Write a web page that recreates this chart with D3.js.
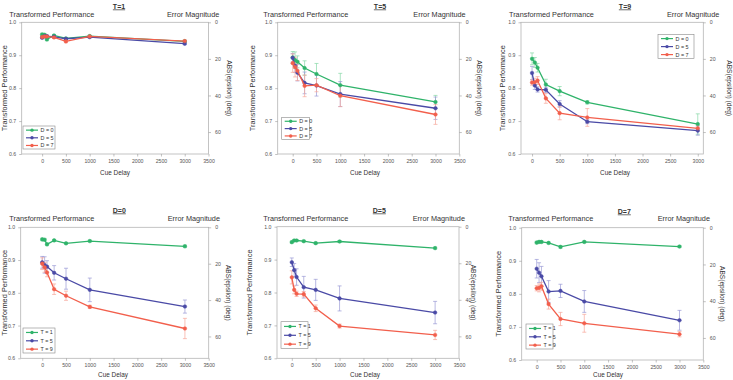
<!DOCTYPE html>
<html><head><meta charset="utf-8">
<script src="https://cdn.jsdelivr.net/npm/d3@7"></script>
<style>body{margin:0;background:#fff}svg{display:block;font-family:"Liberation Sans",Arial,sans-serif}</style>
</head><body><svg id="c" width="733" height="380"></svg>
<script>
// ---- data ----
const cueDelay = [0, 50, 100, 250, 500, 1000, 3000];
const xTicksA = [0, 500, 1000, 1500, 2000, 2500, 3000, 3500];
const xTicksB = [0, 500, 1000, 1500, 2000, 2500, 3000];
const yTicks = [0.6, 0.7, 0.8, 0.9, 1.0];
const y2Ticks = [0, 20, 40, 60];

const perf_T1_D0 = [0.963, 0.962, 0.948, 0.960, 0.951, 0.958, 0.942];
const err_T1_D0  = [0.004, 0.004, 0.004, 0.003, 0.003, 0.003, 0.004];
const perf_T1_D5 = [0.953, 0.958, 0.958, 0.956, 0.950, 0.955, 0.935];
const err_T1_D5  = [0.003, 0.003, 0.003, 0.003, 0.003, 0.003, 0.003];
const perf_T1_D7 = [0.955, 0.957, 0.957, 0.954, 0.942, 0.957, 0.943];
const err_T1_D7  = [0.004, 0.003, 0.003, 0.003, 0.004, 0.003, 0.003];

const perf_T5_D0 = [0.893, 0.885, 0.880, 0.861, 0.843, 0.809, 0.758];
const err_T5_D0  = [0.018, 0.025, 0.018, 0.022, 0.032, 0.036, 0.020];
const perf_T5_D5 = [0.892, 0.868, 0.847, 0.816, 0.808, 0.782, 0.739];
const err_T5_D5  = [0.013, 0.020, 0.025, 0.033, 0.032, 0.038, 0.034];
const perf_T5_D7 = [0.876, 0.864, 0.853, 0.807, 0.809, 0.777, 0.720];
const err_T5_D7  = [0.028, 0.030, 0.030, 0.033, 0.020, 0.033, 0.030];

const perf_T9_D0 = [0.889, 0.878, 0.862, 0.811, 0.791, 0.757, 0.691];
const err_T9_D0  = [0.018, 0.015, 0.013, 0.016, 0.014, 0.005, 0.031];
const perf_T9_D5 = [0.846, 0.808, 0.796, 0.795, 0.752, 0.698, 0.671];
const err_T9_D5  = [0.020, 0.012, 0.008, 0.008, 0.010, 0.006, 0.014];
const perf_T9_D7 = [0.817, 0.818, 0.823, 0.769, 0.724, 0.711, 0.678];
const err_T9_D7  = [0.008, 0.012, 0.012, 0.015, 0.020, 0.027, 0.008];

const labelsD = ["D = 0", "D = 5", "D = 7"];
const labelsT = ["T = 1", "T = 5", "T = 9"];
const titles = ["T=1", "T=5", "T=9", "D=0", "D=5", "D=7"];

// ---- styles ----
const COL = ["#2fb36a", "#4a4aa6", "#f25f4c"];
const ECOL = ["#86d9a8", "#9a9ad6", "#f7a69a"];

const panels = [
  {title: titles[0], labels: labelsD, s: [[perf_T1_D0, err_T1_D0], [perf_T1_D5, err_T1_D5], [perf_T1_D7, err_T1_D7]],
   L: 21.7, R: 208.5, T: 22.3, B: 154, xd: [-430, 3500], xt: xTicksA,
   tx: 119, ty: 8.5, hy: 16.5, hl: 9.3, hr: 219.3, ylx: 6.8, y2x: 229, xlx: 115, xly: 175, lg: [23, 126, 32, 23]},
  {title: titles[1], labels: labelsD, s: [[perf_T5_D0, err_T5_D0], [perf_T5_D5, err_T5_D5], [perf_T5_D7, err_T5_D7]],
   L: 277.7, R: 459.3, T: 22.3, B: 154, xd: [-315, 3500], xt: xTicksA,
   tx: 380, ty: 8.5, hy: 16.5, hl: 263.3, hr: 465.7, ylx: 254.5, y2x: 479, xlx: 365, xly: 175, lg: [281.7, 117.3, 27.6, 22]},
  {title: titles[2], labels: labelsD, s: [[perf_T9_D0, err_T9_D0], [perf_T9_D5, err_T9_D5], [perf_T9_D7, err_T9_D7]],
   L: 521, R: 703.3, T: 22.3, B: 154, xd: [-200, 3100], xt: xTicksB,
   tx: 625, ty: 8.5, hy: 16.5, hl: 509, hr: 719.3, ylx: 504.5, y2x: 729, xlx: 615, xly: 175, lg: [658, 34.3, 36, 24]},
  {title: titles[3], labels: labelsT, s: [[perf_T1_D0, err_T1_D0], [perf_T5_D0, err_T5_D0], [perf_T9_D0, err_T9_D0]],
   L: 20.7, R: 208.7, T: 227.3, B: 358.3, xd: [-453, 3500], xt: xTicksA,
   tx: 119.3, ty: 212.5, hy: 220.5, hl: 9.3, hr: 220, ylx: 6.8, y2x: 228, xlx: 113, xly: 377.3, lg: [23, 328, 32, 25]},
  {title: titles[4], labels: labelsT, s: [[perf_T1_D5, err_T1_D5], [perf_T5_D5, err_T5_D5], [perf_T9_D5, err_T9_D5]],
   L: 277, R: 459, T: 226.7, B: 358.3, xd: [-310, 3500], xt: xTicksA,
   tx: 379.3, ty: 212.5, hy: 220.5, hl: 263.3, hr: 465, ylx: 251.5, y2x: 473, xlx: 365, xly: 377.3, lg: [281, 321.7, 27, 26.6]},
  {title: titles[5], labels: labelsT, s: [[perf_T1_D7, err_T1_D7], [perf_T5_D7, err_T5_D7], [perf_T9_D7, err_T9_D7]],
   L: 521.7, R: 703.3, T: 227.7, B: 360, xd: [-315, 3500], xt: xTicksA,
   tx: 624.3, ty: 213.5, hy: 221, hl: 508.3, hr: 710, ylx: 500.5, y2x: 722.5, xlx: 608, xly: 377.3, lg: [526, 324, 27, 25]}
];

const svg = d3.select("#c");
const TXT = "#333";

panels.forEach(p => {
  const g = svg.append("g");
  const x = d3.scaleLinear().domain(p.xd).range([p.L, p.R]);
  const y = d3.scaleLinear().domain([0.6, 1.0]).range([p.B, p.T]);
  const y2 = d3.scaleLinear().domain([0, 72]).range([p.T, p.B]);

  // frame
  g.append("rect").attr("x", p.L).attr("y", p.T).attr("width", p.R - p.L).attr("height", p.B - p.T)
    .attr("fill", "none").attr("stroke", "#b5b5b5").attr("stroke-width", 0.8);

  const styleAxis = a => {
    a.select(".domain").remove();
    a.selectAll(".tick line").attr("stroke", "#999").attr("stroke-width", 0.6);
    a.selectAll(".tick text").attr("fill", "#555").style("font-size", "5.2px")
      .style("font-family", '"Liberation Sans",Arial,sans-serif');
  };
  g.append("g").attr("transform", `translate(0,${p.B})`)
    .call(d3.axisBottom(x).tickValues(p.xt).tickSize(2.5).tickPadding(3).tickFormat(d3.format("d"))).call(styleAxis);
  g.append("g").attr("transform", `translate(${p.L},0)`)
    .call(d3.axisLeft(y).tickValues(yTicks).tickSize(2.5).tickPadding(3).tickFormat(d3.format(".1f"))).call(styleAxis);
  g.append("g").attr("transform", `translate(${p.R},0)`)
    .call(d3.axisRight(y2).tickValues(y2Ticks).tickSize(2.5).tickPadding(4).tickFormat(d3.format("d"))).call(styleAxis);

  // texts
  g.append("text").attr("x", p.tx).attr("y", p.ty).attr("text-anchor", "middle")
    .style("font-size", "7px").style("font-weight", "bold").style("text-decoration", "underline")
    .attr("fill", TXT).text(p.title);
  g.append("text").attr("x", p.hl).attr("y", p.hy).style("font-size", "7.3px").attr("fill", TXT).text("Transformed Performance");
  g.append("text").attr("x", p.hr).attr("y", p.hy).attr("text-anchor", "end").style("font-size", "7.3px").attr("fill", TXT).text("Error Magnitude");
  const cy = (p.T + p.B) / 2;
  g.append("text").attr("transform", `translate(${p.ylx},${cy}) rotate(-90)`).attr("text-anchor", "middle")
    .style("font-size", "7.4px").attr("fill", TXT).text("Transformed Performance");
  g.append("text").attr("transform", `translate(${p.y2x - 2.3},${cy}) rotate(90)`).attr("text-anchor", "middle")
    .style("font-size", "6.6px").attr("fill", TXT).text("ABS(epsilon) (deg)");
  g.append("text").attr("x", p.xlx).attr("y", p.xly).attr("text-anchor", "middle")
    .style("font-size", "6.4px").attr("fill", TXT).text("Cue Delay");

  // series
  const line = d3.line().x(d => x(d.t)).y(d => y(d.v));
  p.s.forEach((ser, i) => {
    const pts = cueDelay.map((t, k) => ({t, v: ser[0][k], e: ser[1][k]}));
    const eg = g.append("g").attr("stroke", ECOL[i]).attr("stroke-width", 0.7);
    pts.forEach(d => {
      const xx = x(d.t), y0 = y(d.v - d.e), y1 = y(d.v + d.e);
      eg.append("line").attr("x1", xx).attr("x2", xx).attr("y1", y0).attr("y2", y1);
      eg.append("line").attr("x1", xx - 2).attr("x2", xx + 2).attr("y1", y0).attr("y2", y0);
      eg.append("line").attr("x1", xx - 2).attr("x2", xx + 2).attr("y1", y1).attr("y2", y1);
    });
  });
  p.s.forEach((ser, i) => {
    const pts = cueDelay.map((t, k) => ({t, v: ser[0][k]}));
    g.append("path").datum(pts).attr("d", line).attr("fill", "none").attr("stroke", COL[i]).attr("stroke-width", 1.3);
    g.selectAll(null).data(pts).enter().append("circle")
      .attr("cx", d => x(d.t)).attr("cy", d => y(d.v)).attr("r", 1.8)
      .attr("fill", COL[i]).attr("stroke", COL[i]).attr("stroke-width", 0.5);
  });

  // legend
  const [lx, ly, lw, lh] = p.lg;
  g.append("rect").attr("x", lx).attr("y", ly).attr("width", lw).attr("height", lh)
    .attr("fill", "#fff").attr("stroke", "#888").attr("stroke-width", 0.6);
  p.labels.forEach((lab, i) => {
    const yy = ly + lh * (i + 0.5) / 3 + 0.3;
    g.append("line").attr("x1", lx + 3).attr("x2", lx + 15).attr("y1", yy).attr("y2", yy)
      .attr("stroke", COL[i]).attr("stroke-width", 1.2);
    g.append("circle").attr("cx", lx + 9).attr("cy", yy).attr("r", 1.7).attr("fill", COL[i]);
    g.append("text").attr("x", lx + 17.5).attr("y", yy + 1.9).style("font-size", "5.4px").attr("fill", TXT).text(lab);
  });
});
</script></body></html>
